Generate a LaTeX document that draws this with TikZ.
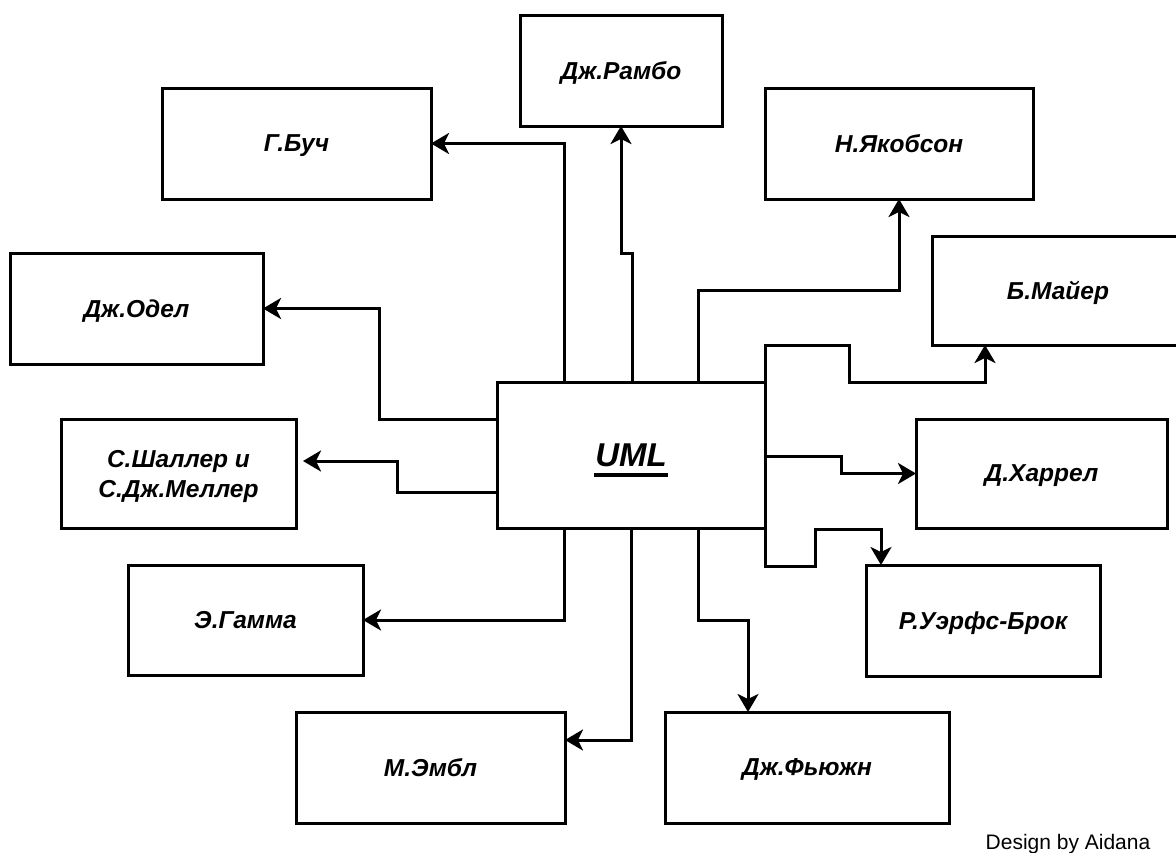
\documentclass[tikz,border=0pt]{standalone}
\usepackage{fontspec}
\setmainfont{Liberation Sans}
\usetikzlibrary{arrows.meta,calc}

% underlined title text with a heavy rule
\newcommand{\umlline}[1]{\setbox0\hbox{#1}\rlap{\hspace*{-1pt}\rule[-11pt]{\dimexpr\wd0+2pt\relax}{4pt}}\box0}

\tikzset{
  box/.style={draw, rectangle, line width=3pt, inner sep=0pt, outer sep=0pt, align=center, fill=white,
    text depth=0pt, font=\bfseries\itshape\fontsize{24.5}{30}\selectfont},
  conn/.style={line width=3pt, -{Stealth[length=18pt,width=21pt,inset=5pt]}},
}

\begin{document}
\begin{tikzpicture}[x=1pt,y=-1pt]
\useasboundingbox (0,0) rectangle (1176,852);
\fill[white] (0,0) rectangle (1176,852);

% central node
\node[box, minimum width=268pt, minimum height=146pt,
      font=\bfseries\itshape\fontsize{33}{40}\selectfont] (uml) at (631,455) {\umlline{UML}};

% authors
\node[box, minimum width=202pt, minimum height=111pt] (rambo)   at (621,70.5)    {Дж.Рамбо};
\node[box, minimum width=269pt, minimum height=111pt] (buch)    at (296.5,143.5) {Г.Буч};
\node[box, minimum width=268pt, minimum height=111pt] (jacob)   at (899,143.5)   {Н.Якобсон};
\node[box, minimum width=253pt, minimum height=111pt] (odel)    at (136.5,308.5) {Дж.Одел};
\node[box, minimum width=252pt, minimum height=109pt] (mayer)   at (1058,290.5)  {Б.Майер};
\node[box, minimum width=235pt, minimum height=109pt] (shaller) at (178.5,473.5) {С.Шаллер и\\С.Дж.Меллер};
\node[box, minimum width=251pt, minimum height=109pt] (harrel)  at (1041.5,473.5){Д.Харрел};
\node[box, minimum width=235pt, minimum height=110pt] (gamma)   at (245.5,620)   {Э.Гамма};
\node[box, minimum width=234pt, minimum height=111pt] (brock)   at (983,620.5)   {Р.Уэрфс-Брок};
\node[box, minimum width=269pt, minimum height=111pt] (embl)    at (430.5,767.5) {М.Эмбл};
\node[box, minimum width=284pt, minimum height=111pt] (fusion)  at (807,767.5)   {Дж.Фьюжн};

% connectors from UML
\draw[conn] ($(uml.north west)+(67,0)$) |- (buch.east);
\draw[conn] ($(uml.north west)+(135,0)$) -- ++(0,-129) -| (rambo.south);
\draw[conn] ($(uml.north west)+(201,0)$) -- ++(0,-92) -| (jacob.south);
\draw[conn] (uml.north east) -- ++(0,-37) -- ++(84,0) -- ++(0,37) -| ($(mayer.south west)+(53,0)$);
\draw[conn] ($(uml.east)+(0,1)$) -- ++(76,0) |- (harrel.west);
\draw[conn] (uml.south east) -- ++(0,38) -- ++(50,0) -- ++(0,-37) -| ($(brock.north west)+(15,0)$);
\draw[conn] ($(uml.south west)+(201,0)$) -- ++(0,92) -| ($(fusion.north west)+(83,0)$);
\draw[conn] ($(uml.south west)+(134,0)$) |- ($(embl.north east)+(0,28)$);
\draw[conn] ($(uml.south west)+(67,0)$) |- (gamma.east);
\draw[conn] ($(uml.south west)+(0,-36)$) -- ++(-100,0) |- ($(shaller.east)+(7,-12.5)$);
\draw[conn] ($(uml.north west)+(0,37)$) -- ++(-118,0) |- (odel.east);

% signature
\node[anchor=base, inner sep=0pt, font=\fontsize{21}{24}\selectfont] (sig) at (1068,849) {Design by Aidana};
\end{tikzpicture}
\end{document}
